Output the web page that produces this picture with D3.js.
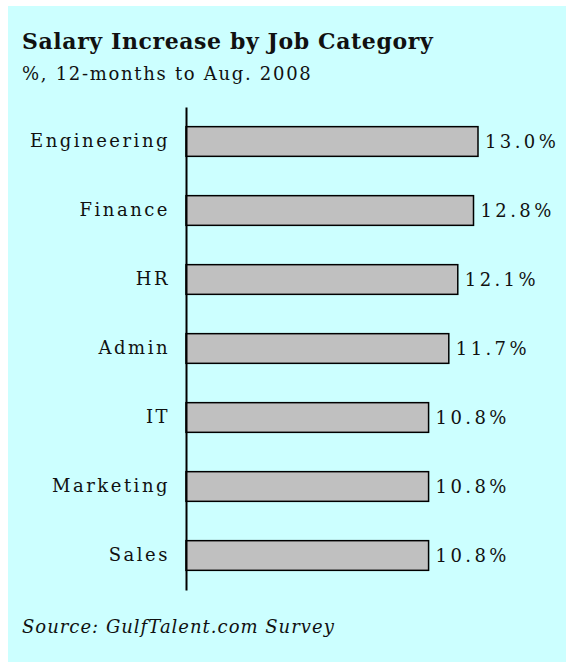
<!DOCTYPE html>
<html>
    <head>
        <title>Salary Increase by Job Category</title>
        <style>
            body { margin: 0; background: #ffffff; }
            .label { font-family: "DejaVu Serif", serif; font-size: 18px; letter-spacing: 2.5px; fill: #111; }
            .val { letter-spacing: 3.4px; }
        </style>
        <script src="https://cdnjs.cloudflare.com/ajax/libs/d3/7.8.5/d3.min.js"></script>
    </head>
    <body>
        <div id="chart"></div>
        <script>
            // data
            const categories = ["Engineering", "Finance", "HR", "Admin", "IT", "Marketing", "Sales"];
            const values = [13.0, 12.8, 12.1, 11.7, 10.8, 10.8, 10.8];
            const title = "Salary Increase by Job Category";
            const subtitle = "%, 12-months to Aug. 2008";
            const source = "Source: GulfTalent.com Survey";

            const w = 566, h = 662;
            const svg = d3.select("#chart").append("svg")
                .attr("width", w)
                .attr("height", h);

            svg.append("rect")
                .attr("x", 8).attr("y", 6)
                .attr("width", w - 8).attr("height", h - 6)
                .attr("fill", "#ccffff");

            svg.append("text")
                .attr("x", 22).attr("y", 49)
                .attr("font-family", "DejaVu Serif, serif")
                .attr("font-weight", "bold")
                .attr("font-size", 22)
                .attr("letter-spacing", "0.6px")
                .attr("fill", "#111")
                .text(title);

            svg.append("text")
                .attr("x", 22).attr("y", 80)
                .attr("font-family", "DejaVu Serif, serif")
                .attr("font-size", 18)
                .attr("letter-spacing", "1.7px")
                .attr("fill", "#111")
                .text(subtitle);

            const x = d3.scaleLinear().domain([0, 13]).range([186, 478]);
            const y = d3.scaleBand().domain(categories).range([107, 590])
                .paddingInner(0.57).paddingOuter(0.285);

            const data = categories.map((c, i) => ({ cat: c, v: values[i] }));

            svg.selectAll("rect.bar")
                .data(data)
                .enter()
                .append("rect")
                .attr("class", "bar")
                .attr("x", x(0))
                .attr("y", d => y(d.cat))
                .attr("width", d => x(d.v) - x(0))
                .attr("height", y.bandwidth())
                .attr("fill", "#c0c0c0")
                .attr("stroke", "#000")
                .attr("stroke-width", 1.5);

            // category axis, no ticks
            const yAxis = d3.axisLeft(y).tickSize(0).tickPadding(16);
            const ga = svg.append("g")
                .attr("transform", "translate(" + x(0) + ",0)")
                .call(yAxis);
            ga.select(".domain").attr("stroke", "#000").attr("stroke-width", 2);
            ga.selectAll("text").attr("class", "label").attr("font-family", null).attr("font-size", null);

            svg.selectAll("text.val")
                .data(data)
                .enter()
                .append("text")
                .attr("class", "label val")
                .attr("x", d => x(d.v) + 7)
                .attr("y", d => y(d.cat) + y.bandwidth() / 2)
                .attr("dy", "0.35em")
                .text(d => d.v.toFixed(1) + "%");

            svg.append("text")
                .attr("x", 22).attr("y", 633)
                .attr("font-family", "DejaVu Serif, serif")
                .attr("font-style", "italic")
                .attr("font-size", 18)
                .attr("letter-spacing", "1px")
                .attr("fill", "#111")
                .text(source);
        </script>
    </body>
</html>
